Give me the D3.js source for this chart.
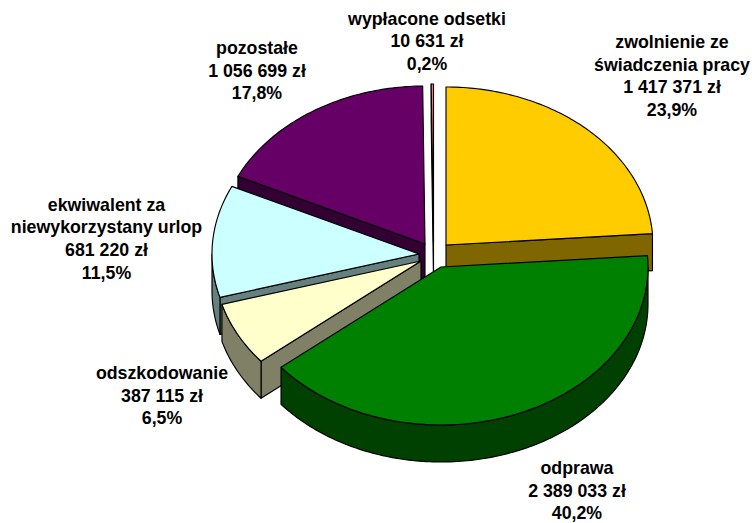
<!DOCTYPE html>
<html><head><meta charset="utf-8">
<style>html,body{margin:0;padding:0;background:#fff}svg{display:block}
text{font-family:"Liberation Sans",Arial,sans-serif;font-weight:700;font-size:17.75px;fill:#000;text-anchor:middle}</style>
<script src="https://cdn.jsdelivr.net/npm/d3@7"></script></head><body>
<script>
const categories=[["zwolnienie ze","świadczenia pracy"],["odprawa"],["odszkodowanie"],["ekwiwalent za","niewykorzystany urlop"],["pozostałe"],["wypłacone odsetki"]];
const values=[1417371,2389033,387115,681220,1056699,10631];
const topColors=["#FFCC00","#008000","#FFFFCC","#CCFFFF","#660066","#FF8080"];
const sideColors=["#806600","#004000","#808066","#668080","#330033","#804040"];

const W=752,H=523,rx=207,ry=158,depth=37;
// exploded centre of every slice, and the label anchors (same order as categories)
const centres=[[446,245],[441,267],[421,261],[419,254],[425,244],[433.5,242]];
const labelPos=[[672,48],[577,474],[162,379],[106.5,210.5],[257,54],[427,24.5]];
const paintOrder=[4,5,0,3,2,1];
const lineH=22.7;

const svg=d3.select("body").append("svg").attr("width",W).attr("height",H);
const pie=d3.pie().sort(null).value(d=>d)(values);
const loc=d3.formatLocale({decimal:",",thousands:" ",grouping:[3],currency:["",""],percent:"%"});
const fmtV=loc.format(",d"),fmtP=loc.format(".1%"),total=d3.sum(values);

const pt=(c,a,dy=0)=>[c[0]+rx*Math.sin(a),c[1]-ry*Math.cos(a)+dy];
const arcPts=(c,a0,a1,dy=0)=>{const n=Math.max(2,Math.ceil(Math.abs(a1-a0)*60));
  return d3.range(n+1).map(i=>pt(c,a0+(a1-a0)*i/n,dy));};
const line=d3.line();
const draw=(pts,fill)=>svg.append("path").attr("d",line(pts)+"Z").attr("fill",fill)
  .attr("stroke","#000").attr("stroke-width",1.15).attr("stroke-linejoin","round");

paintOrder.forEach(i=>{
  const p=pie[i],c=centres[i],a0=p.startAngle,a1=p.endAngle;
  const low=[c[0],c[1]+depth];
  // only the cut face that looks towards the viewer is drawn
  const faces=[];
  if(a0>Math.PI) faces.push(a0);
  if(a1<Math.PI) faces.push(a1);
  faces.forEach(a=>draw([c,pt(c,a),pt(c,a,depth),low],sideColors[i]));
  const lo=Math.max(a0,Math.PI/2),hi=Math.min(a1,Math.PI*1.5);
  if(hi>lo) draw([...arcPts(c,lo,hi),...arcPts(c,hi,lo,depth)],sideColors[i]);
  draw([c,...arcPts(c,a0,a1)],topColors[i]);
});

categories.forEach((cat,i)=>{
  const rows=[...cat,fmtV(values[i])+" zł",fmtP(values[i]/total)];
  const t=svg.append("text").attr("x",labelPos[i][0]).attr("y",labelPos[i][1]);
  rows.forEach((r,k)=>t.append("tspan").attr("x",labelPos[i][0]).attr("y",labelPos[i][1]+k*lineH).text(r));
});
</script></body></html>
